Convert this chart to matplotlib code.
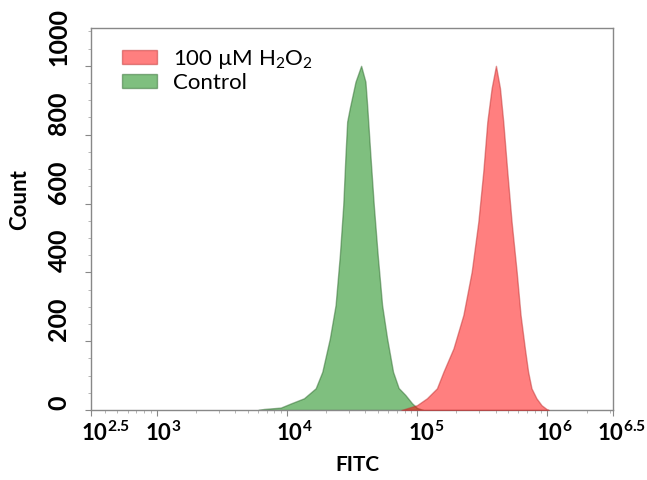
import numpy as np
import matplotlib
matplotlib.use("Agg")
import matplotlib.pyplot as plt
import matplotlib.transforms as mtransforms
from matplotlib.ticker import MultipleLocator, LogLocator, NullFormatter
from matplotlib.patches import Patch

plt.rcParams['font.family'] = ['Lato', 'DejaVu Sans']
plt.rcParams['mathtext.fontset'] = 'custom'
plt.rcParams['mathtext.rm'] = 'Lato'
plt.rcParams['mathtext.it'] = 'Lato:italic'
plt.rcParams['mathtext.bf'] = 'Lato:bold'

# data (x as log10 FITC, y as count)
control_log = [3.78, 3.823, 3.953, 4.030, 4.131, 4.221, 4.272, 4.330, 4.374, 4.407,
               4.433, 4.450, 4.463, 4.483, 4.527, 4.570, 4.603, 4.616, 4.641, 4.667,
               4.697, 4.731, 4.769, 4.815, 4.858, 4.909, 4.960, 4.999, 5.047]
control_cnt = [0, 3, 7, 19, 34, 63, 111, 208, 305, 451,
               596, 741, 838, 877, 954, 1000, 954, 887, 741, 596,
               451, 305, 209, 111, 64, 44, 20, 6, 0]

h2o2_log = [4.88, 4.922, 4.999, 5.075, 5.152, 5.202, 5.279, 5.355, 5.419, 5.470,
            5.508, 5.539, 5.572, 5.605, 5.636, 5.661, 5.692, 5.725, 5.764, 5.794,
            5.827, 5.852, 5.878, 5.916, 5.955, 5.993, 6.01]
h2o2_cnt = [0, 5, 14, 34, 63, 111, 179, 276, 402, 547,
            693, 838, 935, 1000, 935, 838, 693, 547, 402, 276,
            179, 111, 63, 34, 14, 3, 0]

xtick_exp = [2.5, 3, 4, 5, 6, 6.5]
xtick_labels = [r'$\mathbf{10^{2.5}}$', r'$\mathbf{10^{3}}$', r'$\mathbf{10^{4}}$',
                r'$\mathbf{10^{5}}$', r'$\mathbf{10^{6}}$', r'$\mathbf{10^{6.5}}$']
yticks = [0, 200, 400, 600, 800, 1000]

fig = plt.figure(figsize=(6.47, 4.8), dpi=100)
ax = fig.add_axes([0.1414, 0.1458, 0.8053, 0.7959])

ax.fill_between(10 ** np.array(control_log), control_cnt, color='#008000', alpha=0.5,
                edgecolor='#2e6b2e', linewidth=1.0, label='Control', zorder=2)
ax.fill_between(10 ** np.array(h2o2_log), h2o2_cnt, color='#ff0000', alpha=0.5,
                edgecolor='#c03030', linewidth=1.0, label='100 µM H$_2$O$_2$', zorder=3)

ax.set_xscale('log')
ax.set_xlim(10 ** 2.5, 10 ** 6.5)
ax.set_ylim(0, 1110)

ax.set_xticks([10 ** e for e in xtick_exp])
ax.set_xticklabels(xtick_labels)
ax.xaxis.set_minor_locator(LogLocator(base=10, subs=np.arange(2, 10)))
ax.xaxis.set_minor_formatter(NullFormatter())
ax.set_yticks(yticks)
ax.set_yticklabels([str(v) for v in yticks])
ax.yaxis.set_minor_locator(MultipleLocator(50))

for s in ax.spines.values():
    s.set_color('#888888')
    s.set_linewidth(1.0)
ax.tick_params(which='major', direction='out', length=4, color='#888888')
ax.tick_params(which='minor', direction='out', length=2, color='#aaaaaa')
ax.tick_params(axis='x', pad=4, labelsize=16)
ax.tick_params(axis='y', pad=14, labelsize=18)

for lab in ax.get_yticklabels():
    lab.set_rotation(90)
    lab.set_rotation_mode('anchor')
    lab.set_ha('left')
    lab.set_va('baseline')
    lab.set_fontweight('bold')

shifts = [14, 7, 7, 9, 7, 9]
for lab, dx in zip(ax.get_xticklabels(), shifts):
    lab.set_transform(lab.get_transform() +
                      mtransforms.ScaledTranslation(dx / 100, 0, fig.dpi_scale_trans))

ax.set_ylabel('Count', fontsize=16, fontweight='bold')
ax.yaxis.set_label_coords(-0.118, 0.55)
ax.set_xlabel('FITC', fontsize=15, fontweight='bold')
ax.xaxis.set_label_coords(0.51, -0.118)

handles = [Patch(facecolor='#ff0000', alpha=0.5, edgecolor='#c03030', label='100 µM H$_2$O$_2$'),
           Patch(facecolor='#008000', alpha=0.5, edgecolor='#2e6b2e', label='Control')]
ax.legend(handles=handles, loc='upper left', bbox_to_anchor=(0.02, 1.0), frameon=False,
          fontsize=16, handlelength=1.6, handleheight=0.6, handletextpad=0.7,
          labelspacing=0.1)

fig.savefig('out.png', dpi=100)
